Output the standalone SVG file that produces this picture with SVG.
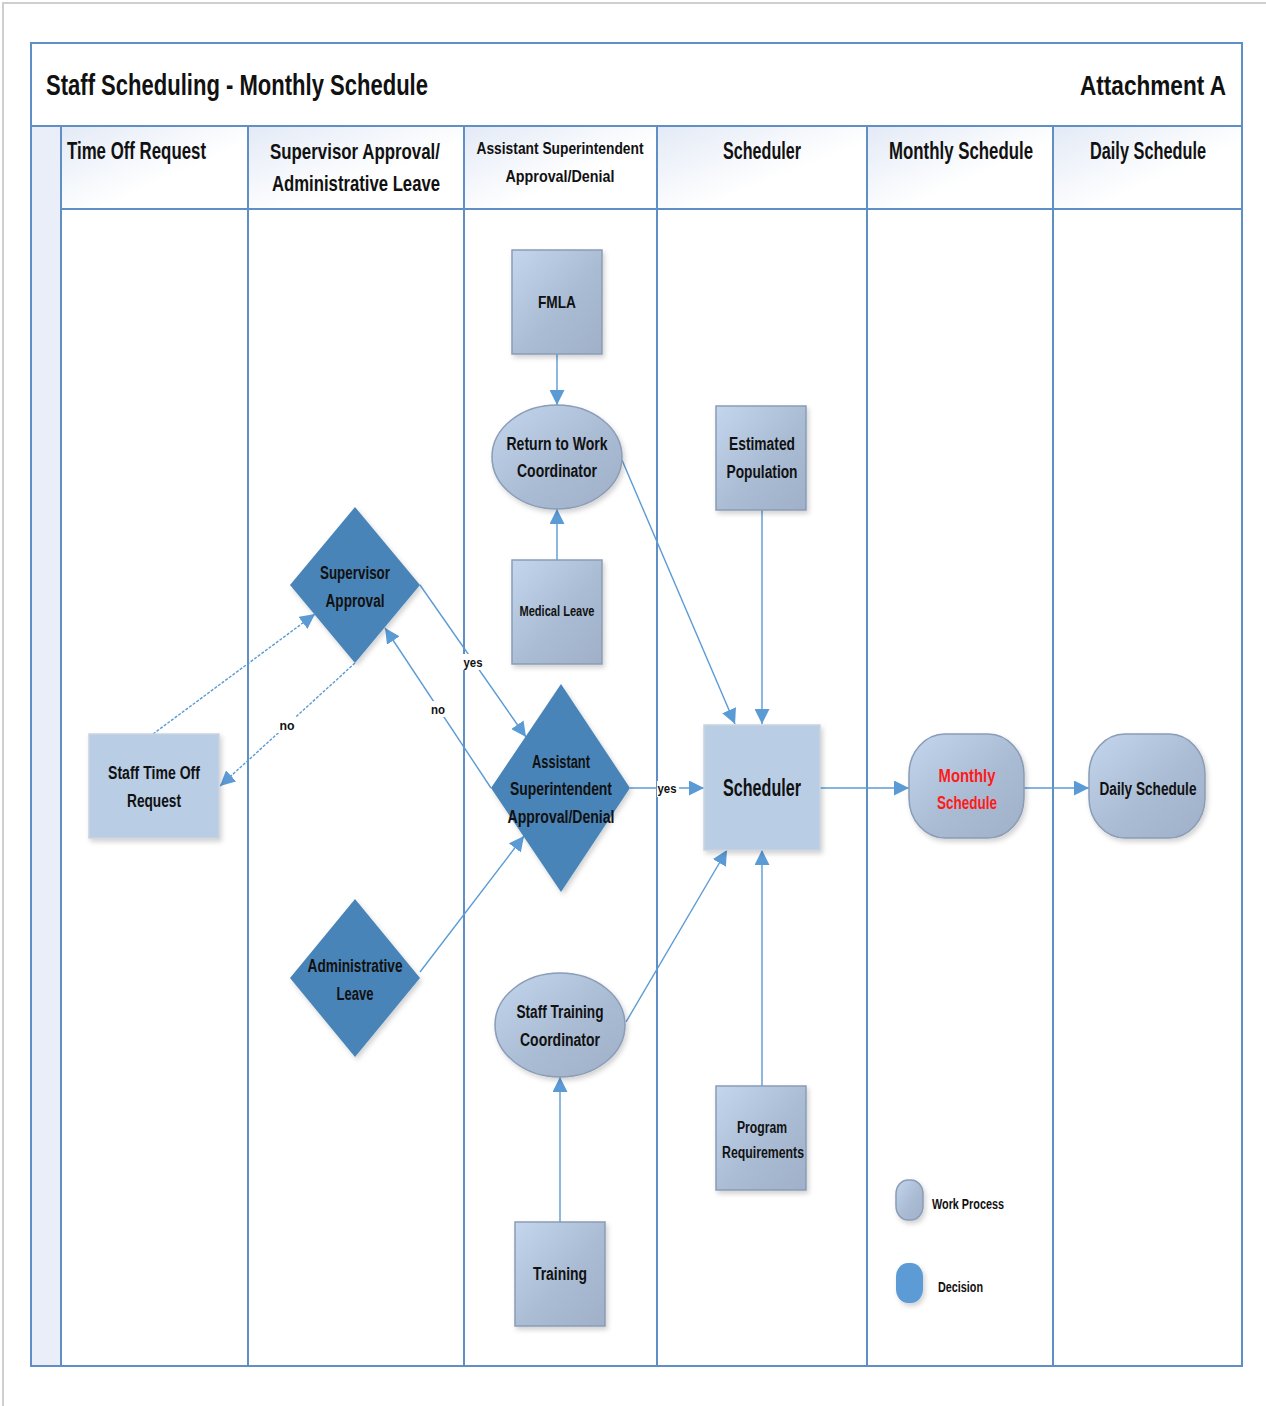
<svg xmlns="http://www.w3.org/2000/svg" width="1266" height="1406" viewBox="0 0 1266 1406">
<style>
.t{font-family:"Liberation Sans",Arial,sans-serif;font-weight:bold;fill:#111}
.c{text-anchor:middle}
.frame{fill:none;stroke:#5f8fc4;stroke-width:2}
.lane{stroke:#5f8fc4;stroke-width:2}
.proc{fill:url(#pg);stroke:#8a9cb6;stroke-width:1.5;filter:url(#sh)}
.dec{fill:#4a84b8;filter:url(#sh)}
.flat{fill:#b9cde5;stroke:#c9d3df;stroke-width:1.5;filter:url(#sh)}
.con{fill:none;stroke:#5b9bd5;stroke-width:1.4;marker-end:url(#ah)}
.lbl{font-family:"Liberation Sans",Arial,sans-serif;font-weight:bold;font-size:13px;fill:#111;text-anchor:middle}
</style>
<defs>
<linearGradient id="pg" x1="0" y1="0" x2="1" y2="1">
<stop offset="0" stop-color="#c3d6ee"/>
<stop offset="0.55" stop-color="#aabcd4"/>
<stop offset="1" stop-color="#9fb0c8"/>
</linearGradient>
<linearGradient id="hg" x1="0" y1="0" x2="1" y2="1">
<stop offset="0" stop-color="#e3eaf6"/>
<stop offset="0.6" stop-color="#ffffff"/>
</linearGradient>
<filter id="sh" x="-20%" y="-20%" width="150%" height="150%">
<feDropShadow dx="2" dy="3" stdDeviation="2.5" flood-color="#000" flood-opacity="0.18"/>
</filter>
<marker id="ah" markerUnits="userSpaceOnUse" markerWidth="15" markerHeight="15" refX="13" refY="6.5" orient="auto" viewBox="0 0 13 13">
<path d="M0,0 L13,6.5 L0,13 z" fill="#5b9bd5"/>
</marker>
</defs>
<rect x="0" y="0" width="1266" height="1406" fill="#ffffff"/>
<path d="M3,1406 V3 H1266" fill="none" stroke="#cfcfcf" stroke-width="2"/>

<g id="frame">
<rect x="31" y="126" width="30" height="1240" fill="#e9eef8"/>
<rect x="61" y="126" width="187" height="83" fill="url(#hg)"/>
<rect x="248" y="126" width="216" height="83" fill="url(#hg)"/>
<rect x="464" y="126" width="193" height="83" fill="url(#hg)"/>
<rect x="657" y="126" width="210" height="83" fill="url(#hg)"/>
<rect x="867" y="126" width="186" height="83" fill="url(#hg)"/>
<rect x="1053" y="126" width="189" height="83" fill="url(#hg)"/>
<rect class="frame" x="31" y="43" width="1211" height="1323"/>
<line class="lane" x1="31" y1="126" x2="1242" y2="126"/>
<line class="lane" x1="61" y1="209" x2="1242" y2="209"/>
<line class="lane" x1="61" y1="126" x2="61" y2="1366"/>
<line class="lane" x1="248" y1="126" x2="248" y2="1366"/>
<line class="lane" x1="464" y1="126" x2="464" y2="1366"/>
<line class="lane" x1="657" y1="126" x2="657" y2="1366"/>
<line class="lane" x1="867" y1="126" x2="867" y2="1366"/>
<line class="lane" x1="1053" y1="126" x2="1053" y2="1366"/>
<text class="t" x="46" y="95" font-size="30" textLength="382" lengthAdjust="spacingAndGlyphs">Staff Scheduling - Monthly Schedule</text>
<text class="t" x="1153" y="95" font-size="27" text-anchor="middle" textLength="146" lengthAdjust="spacingAndGlyphs">Attachment A</text>
<text class="t" x="67" y="159" font-size="23" textLength="139" lengthAdjust="spacingAndGlyphs">Time Off Request</text>
<text class="t c" x="355" y="159" font-size="22" textLength="170" lengthAdjust="spacingAndGlyphs">Supervisor Approval/</text>
<text class="t c" x="356" y="191" font-size="22" textLength="168" lengthAdjust="spacingAndGlyphs">Administrative Leave</text>
<text class="t c" x="560" y="154" font-size="16" textLength="167" lengthAdjust="spacingAndGlyphs">Assistant Superintendent</text>
<text class="t c" x="560" y="182" font-size="17" textLength="109" lengthAdjust="spacingAndGlyphs">Approval/Denial</text>
<text class="t c" x="762" y="159" font-size="23" textLength="78" lengthAdjust="spacingAndGlyphs">Scheduler</text>
<text class="t c" x="961" y="159" font-size="23" textLength="144" lengthAdjust="spacingAndGlyphs">Monthly Schedule</text>
<text class="t c" x="1148" y="159" font-size="23" textLength="116" lengthAdjust="spacingAndGlyphs">Daily Schedule</text>
</g>

<g id="connectors">
<line class="con" x1="557" y1="354" x2="557" y2="405"/>
<line class="con" x1="557" y1="560" x2="557" y2="509"/>
<line class="con" x1="622" y1="460" x2="735" y2="724"/>
<line class="con" x1="762" y1="510" x2="762" y2="724"/>
<line class="con" x1="153" y1="734" x2="315" y2="614" stroke-dasharray="3,1.5"/>
<line class="con" x1="355" y1="663" x2="220" y2="786" stroke-dasharray="3,1.5"/>
<line class="con" x1="420" y1="585" x2="526" y2="737"/>
<line class="con" x1="491" y1="788" x2="385" y2="628"/>
<line class="con" x1="420" y1="972" x2="524" y2="836"/>
<line class="con" x1="630" y1="788" x2="704" y2="788"/>
<line class="con" x1="626" y1="1022" x2="727" y2="850"/>
<line class="con" x1="762" y1="1086" x2="762" y2="850"/>
<line class="con" x1="560" y1="1222" x2="560" y2="1077"/>
<line class="con" x1="820" y1="788" x2="909" y2="788"/>
<line class="con" x1="1024" y1="788" x2="1089" y2="788"/>
<rect x="277" y="717" width="20" height="16" fill="#fff"/>
<text class="lbl" x="287" y="730" textLength="15" lengthAdjust="spacingAndGlyphs">no</text>
<rect x="462" y="654" width="23" height="16" fill="#fff"/>
<text class="lbl" x="473" y="667" textLength="19" lengthAdjust="spacingAndGlyphs">yes</text>
<rect x="428" y="701" width="20" height="16" fill="#fff"/>
<text class="lbl" x="438" y="714" textLength="14" lengthAdjust="spacingAndGlyphs">no</text>
<rect x="657" y="781" width="22" height="16" fill="#fff"/>
<text class="lbl" x="667" y="793" textLength="19" lengthAdjust="spacingAndGlyphs">yes</text>
</g>

<g id="fmla">
<rect class="proc" x="512" y="250" width="90" height="104"/>
<text class="t c" x="557" y="308" font-size="17" textLength="38" lengthAdjust="spacingAndGlyphs">FMLA</text>
</g>
<g id="return-to-work">
<ellipse class="proc" cx="557" cy="457" rx="65" ry="52"/>
<text class="t c" x="557" y="450" font-size="18" textLength="101" lengthAdjust="spacingAndGlyphs">Return to Work</text>
<text class="t c" x="557" y="477" font-size="18" textLength="80" lengthAdjust="spacingAndGlyphs">Coordinator</text>
</g>
<g id="medical-leave">
<rect class="proc" x="512" y="560" width="90" height="104"/>
<text class="t c" x="557" y="616" font-size="14" textLength="75" lengthAdjust="spacingAndGlyphs">Medical Leave</text>
</g>
<g id="estimated-population">
<rect class="proc" x="716" y="406" width="90" height="104"/>
<text class="t c" x="762" y="450" font-size="18" textLength="66" lengthAdjust="spacingAndGlyphs">Estimated</text>
<text class="t c" x="762" y="478" font-size="18" textLength="71" lengthAdjust="spacingAndGlyphs">Population</text>
</g>
<g id="supervisor-approval">
<polygon class="dec" points="355,507 420,585 355,663 290,585"/>
<text class="t c" x="355" y="579" font-size="18" textLength="70" lengthAdjust="spacingAndGlyphs">Supervisor</text>
<text class="t c" x="355" y="607" font-size="18" textLength="59" lengthAdjust="spacingAndGlyphs">Approval</text>
</g>
<g id="staff-time-off">
<rect class="flat" x="89" y="734" width="130" height="104"/>
<text class="t c" x="154" y="779" font-size="18" textLength="92" lengthAdjust="spacingAndGlyphs">Staff Time Off</text>
<text class="t c" x="154" y="807" font-size="18" textLength="54" lengthAdjust="spacingAndGlyphs">Request</text>
</g>
<g id="asst-supt">
<polygon class="dec" points="561,684 630,788 561,892 491,788"/>
<text class="t c" x="561" y="768" font-size="18" textLength="58" lengthAdjust="spacingAndGlyphs">Assistant</text>
<text class="t c" x="561" y="795" font-size="18" textLength="102" lengthAdjust="spacingAndGlyphs">Superintendent</text>
<text class="t c" x="561" y="823" font-size="18" textLength="107" lengthAdjust="spacingAndGlyphs">Approval/Denial</text>
</g>
<g id="scheduler">
<rect class="flat" x="704" y="725" width="116" height="125"/>
<text class="t c" x="762" y="796" font-size="24" textLength="78" lengthAdjust="spacingAndGlyphs">Scheduler</text>
</g>
<g id="monthly-schedule">
<rect class="proc" x="909" y="734" width="115" height="104" rx="36" ry="40"/>
<text class="t c" x="967" y="782" font-size="18" style="fill:#ff1a1a" textLength="57" lengthAdjust="spacingAndGlyphs">Monthly</text>
<text class="t c" x="967" y="809" font-size="18" style="fill:#ff1a1a" textLength="60" lengthAdjust="spacingAndGlyphs">Schedule</text>
</g>
<g id="daily-schedule">
<rect class="proc" x="1089" y="734" width="116" height="104" rx="36" ry="40"/>
<text class="t c" x="1148" y="795" font-size="18" textLength="97" lengthAdjust="spacingAndGlyphs">Daily Schedule</text>
</g>
<g id="administrative-leave">
<polygon class="dec" points="355,899 420,978 355,1057 290,978"/>
<text class="t c" x="355" y="972" font-size="18" textLength="95" lengthAdjust="spacingAndGlyphs">Administrative</text>
<text class="t c" x="355" y="1000" font-size="18" textLength="37" lengthAdjust="spacingAndGlyphs">Leave</text>
</g>
<g id="staff-training">
<ellipse class="proc" cx="560" cy="1025" rx="65" ry="52"/>
<text class="t c" x="560" y="1018" font-size="18" textLength="87" lengthAdjust="spacingAndGlyphs">Staff Training</text>
<text class="t c" x="560" y="1046" font-size="18" textLength="80" lengthAdjust="spacingAndGlyphs">Coordinator</text>
</g>
<g id="program-requirements">
<rect class="proc" x="716" y="1086" width="90" height="104"/>
<text class="t c" x="762" y="1133" font-size="16" textLength="50" lengthAdjust="spacingAndGlyphs">Program</text>
<text class="t c" x="763" y="1158" font-size="16" textLength="82" lengthAdjust="spacingAndGlyphs">Requirements</text>
</g>
<g id="training">
<rect class="proc" x="515" y="1222" width="90" height="104"/>
<text class="t c" x="560" y="1280" font-size="18" textLength="54" lengthAdjust="spacingAndGlyphs">Training</text>
</g>
<g id="legend">
<rect class="proc" x="896" y="1180" width="27" height="40" rx="12" ry="14"/>
<text class="t" x="932" y="1209" font-size="14" textLength="72" lengthAdjust="spacingAndGlyphs">Work Process</text>
<rect x="896" y="1263" width="27" height="40" rx="12" ry="14" fill="#5b9bd5" filter="url(#sh)"/>
<text class="t" x="938" y="1292" font-size="14" textLength="45" lengthAdjust="spacingAndGlyphs">Decision</text>
</g>
</svg>
